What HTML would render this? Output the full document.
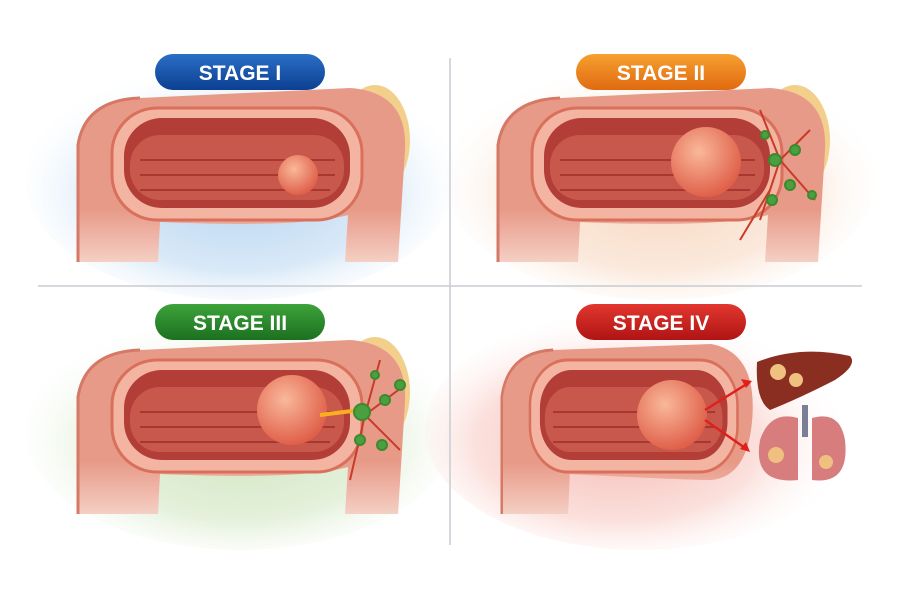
<!DOCTYPE html>
<html><head><meta charset="utf-8"><style>
html,body{margin:0;padding:0;background:#fff;}
svg{display:block}
text{font-family:"Liberation Sans",sans-serif;font-weight:bold;}
</style></head><body>
<svg width="900" height="600" viewBox="0 0 900 600" xmlns="http://www.w3.org/2000/svg">
<defs>
<radialGradient id="gb" cx="50%" cy="55%" r="55%"><stop offset="0" stop-color="#b9d6f2"/><stop offset="0.6" stop-color="#d9e9f8"/><stop offset="1" stop-color="#fff" stop-opacity="0"/></radialGradient>
<radialGradient id="go" cx="50%" cy="55%" r="55%"><stop offset="0" stop-color="#f8d8c0"/><stop offset="0.6" stop-color="#fbe9dc"/><stop offset="1" stop-color="#fff" stop-opacity="0"/></radialGradient>
<radialGradient id="gg" cx="50%" cy="55%" r="55%"><stop offset="0" stop-color="#cfe5c0"/><stop offset="0.6" stop-color="#e5f1dc"/><stop offset="1" stop-color="#fff" stop-opacity="0"/></radialGradient>
<radialGradient id="gr" cx="45%" cy="55%" r="55%"><stop offset="0" stop-color="#f6bcb6"/><stop offset="0.6" stop-color="#fbe0dc"/><stop offset="1" stop-color="#fff" stop-opacity="0"/></radialGradient>
<linearGradient id="pb" x1="0" y1="0" x2="0" y2="1"><stop offset="0" stop-color="#2a6fc6"/><stop offset="1" stop-color="#0c3f92"/></linearGradient>
<linearGradient id="po" x1="0" y1="0" x2="0" y2="1"><stop offset="0" stop-color="#f7a030"/><stop offset="1" stop-color="#e06a10"/></linearGradient>
<linearGradient id="pg" x1="0" y1="0" x2="0" y2="1"><stop offset="0" stop-color="#3da33a"/><stop offset="1" stop-color="#1c7020"/></linearGradient>
<linearGradient id="pr" x1="0" y1="0" x2="0" y2="1"><stop offset="0" stop-color="#e2372f"/><stop offset="1" stop-color="#b01414"/></linearGradient>
<radialGradient id="tum" cx="40%" cy="35%" r="65%"><stop offset="0" stop-color="#f9b89a"/><stop offset="1" stop-color="#e0604a"/></radialGradient>
<linearGradient id="fade" x1="0" y1="0" x2="0" y2="1"><stop offset="0" stop-color="#e89a88"/><stop offset="0.7" stop-color="#e89a88"/><stop offset="1" stop-color="#f4cfc4"/></linearGradient>
<g id="inner">
 <rect x="112" y="108" width="250" height="112" rx="45" fill="#f4b4a2" stroke="#d8705c" stroke-width="3"/>
 <rect x="124" y="118" width="226" height="90" rx="38" fill="#b23e37"/>
 <rect x="130" y="135" width="214" height="65" rx="30" fill="#c8574c"/>
 <path d="M140,160 H335 M140,175 H335 M140,190 H330" stroke="#a83730" stroke-width="2"/>
</g>
<g id="colon">
 <ellipse cx="375" cy="140" rx="35" ry="55" fill="#f2d08c"/>
 <path d="M78,262 L78,145 Q85,100 140,98 L350,88 Q408,92 405,150 L398,262 L345,262 L348,215 Q300,228 160,222 L158,262 Z" fill="url(#fade)"/>
 <path d="M78,262 L78,145 Q85,100 140,98" fill="none" stroke="#d57865" stroke-width="3"/>
 <use href="#inner"/>
</g>
<g id="colon4">
 <path d="M78,262 L78,145 Q85,100 140,98 L330,92 Q385,100 380,165 Q375,225 330,228 Q300,228 160,222 L158,262 Z" fill="url(#fade)"/>
 <path d="M78,262 L78,145 Q85,100 140,98" fill="none" stroke="#d57865" stroke-width="3"/>
 <use href="#inner"/>
</g>
</defs>
<rect width="900" height="600" fill="#fff"/>
<ellipse cx="240" cy="180" rx="215" ry="120" fill="url(#gb)"/>
<ellipse cx="660" cy="180" rx="215" ry="120" fill="url(#go)"/>
<ellipse cx="240" cy="430" rx="215" ry="120" fill="url(#gg)"/>
<ellipse cx="640" cy="430" rx="215" ry="120" fill="url(#gr)"/>
<line x1="450" y1="58" x2="450" y2="545" stroke="#c8ccd2" stroke-width="1.5"/>
<line x1="38" y1="286" x2="862" y2="286" stroke="#c8ccd2" stroke-width="1.5"/>

<use href="#colon"/>
<use href="#colon" transform="translate(420,0)"/>
<use href="#colon" transform="translate(0,252)"/>
<use href="#colon4" transform="translate(437,252) scale(0.83,1)"/>

<!-- tumors -->
<circle cx="298" cy="175" r="20" fill="url(#tum)"/>
<circle cx="706" cy="162" r="35" fill="url(#tum)"/>
<circle cx="292" cy="410" r="35" fill="url(#tum)"/>
<circle cx="672" cy="415" r="35" fill="url(#tum)"/>

<!-- lymph stage II -->
<g stroke="#3c8a2e" stroke-width="2" fill="#4aa040">
<path d="M760,110 L780,160 L760,220 M780,160 L810,130 M780,160 L815,200 M770,190 L740,240" fill="none" stroke="#c83a2a"/>
<circle cx="775" cy="160" r="6"/><circle cx="795" cy="150" r="5"/><circle cx="790" cy="185" r="5"/><circle cx="812" cy="195" r="4"/><circle cx="772" cy="200" r="5"/><circle cx="765" cy="135" r="4"/>
</g>
<!-- lymph stage III -->
<g stroke="#3c8a2e" stroke-width="2" fill="#4aa040">
<path d="M380,360 L365,415 L350,480 M365,415 L405,385 M365,415 L400,450" fill="none" stroke="#c83a2a"/>
<line x1="320" y1="415" x2="360" y2="410" stroke="#f8b020" stroke-width="4"/>
<circle cx="362" cy="412" r="8"/><circle cx="385" cy="400" r="5"/><circle cx="400" cy="385" r="5"/><circle cx="382" cy="445" r="5"/><circle cx="360" cy="440" r="5"/><circle cx="375" cy="375" r="4"/>
</g>
<!-- stage IV organs -->
<path d="M705,410 L750,382 M705,420 L748,450" stroke="#e0201a" stroke-width="2.5" fill="none"/>
<path d="M752,381 l-11,-2 l5,9 z M750,452 l-4,-10 l-6,7 z" fill="#e0201a"/>
<path d="M757,362 Q800,345 850,356 Q858,365 835,380 Q800,398 770,410 Q755,400 757,362 Z" fill="#8a2e22"/>
<circle cx="778" cy="372" r="8" fill="#f0c080"/><circle cx="796" cy="380" r="7" fill="#f0c080"/>
<rect x="802" y="405" width="6" height="32" fill="#7a7f98"/>
<path d="M798,418 Q770,410 760,440 Q752,485 798,480 Z" fill="#d77d7d"/>
<path d="M812,418 Q840,410 845,440 Q850,485 812,480 Z" fill="#d77d7d"/>
<circle cx="776" cy="455" r="8" fill="#f0c080"/><circle cx="826" cy="462" r="7" fill="#f0c080"/>

<!-- pills -->
<rect x="155" y="54" width="170" height="36" rx="18" fill="url(#pb)"/>
<text x="240" y="80" text-anchor="middle" font-size="21" fill="#fff">STAGE I</text>
<rect x="576" y="54" width="170" height="36" rx="18" fill="url(#po)"/>
<text x="661" y="80" text-anchor="middle" font-size="21" fill="#fff">STAGE II</text>
<rect x="155" y="304" width="170" height="36" rx="18" fill="url(#pg)"/>
<text x="240" y="330" text-anchor="middle" font-size="21" fill="#fff">STAGE III</text>
<rect x="576" y="304" width="170" height="36" rx="18" fill="url(#pr)"/>
<text x="661" y="330" text-anchor="middle" font-size="21" fill="#fff">STAGE IV</text>
</svg>
</body></html>
